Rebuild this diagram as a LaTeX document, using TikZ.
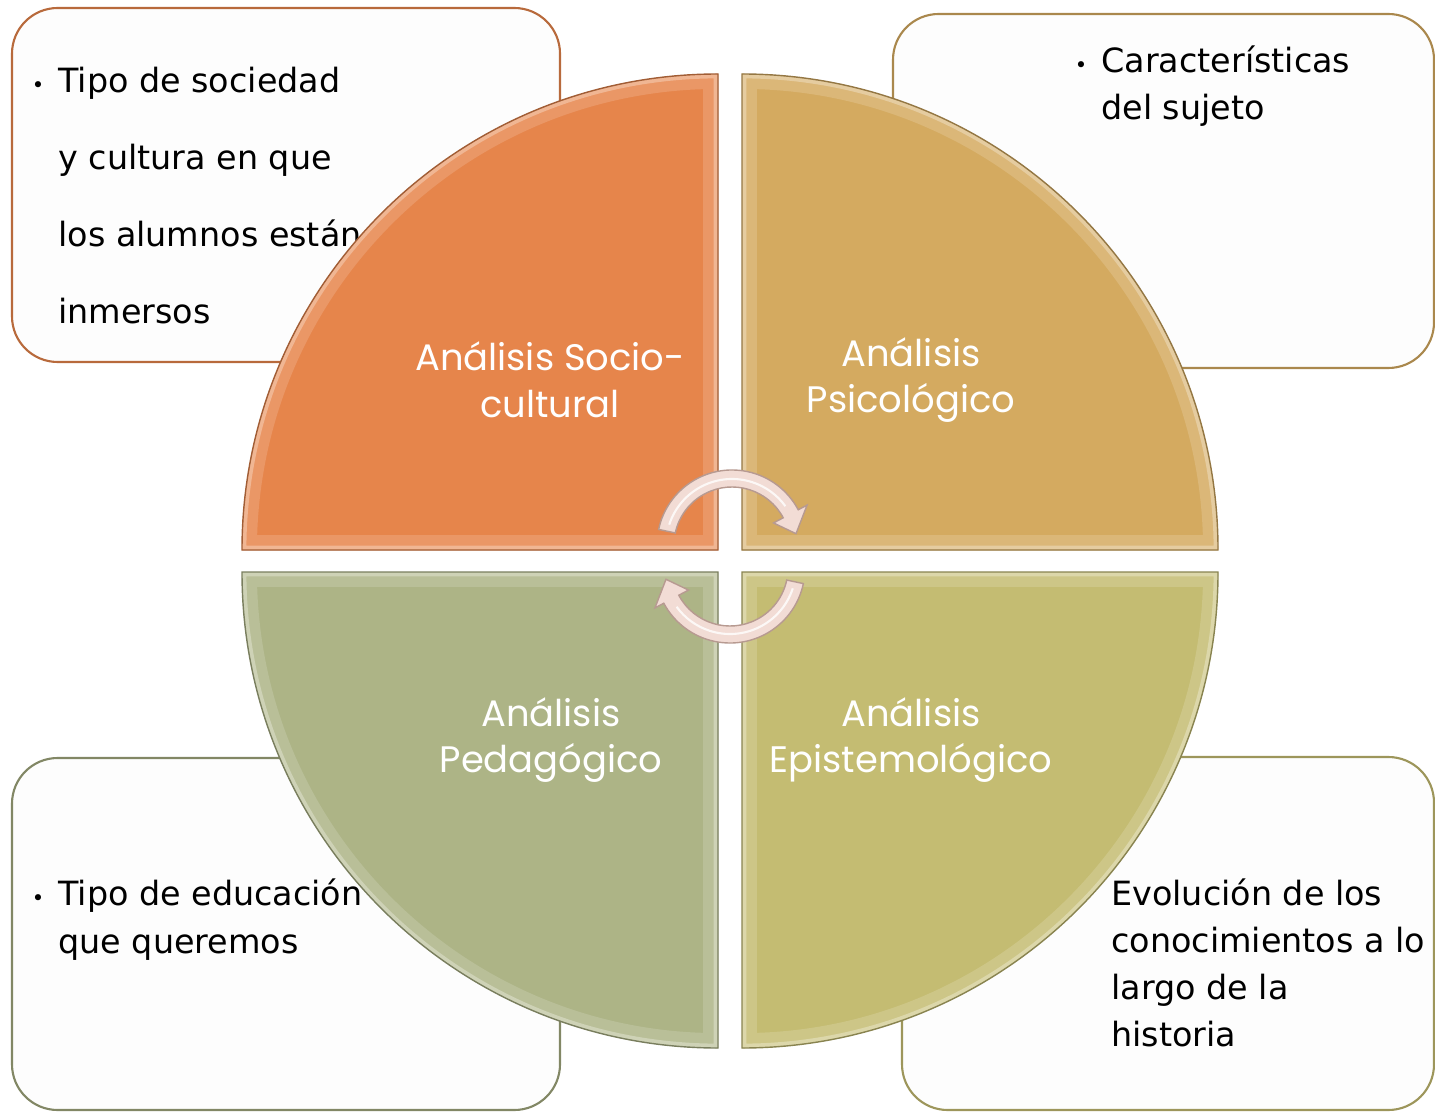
\documentclass[tikz,border=0pt]{standalone}
\usepackage{fontspec}
\setmainfont{DejaVu Sans}
\newfontfamily\quadfamily{Poppins}
\usetikzlibrary{positioning}

\definecolor{socio}{HTML}{E6854B}
\definecolor{psico}{HTML}{D4AA60}
\definecolor{peda}{HTML}{ADB486}
\definecolor{episte}{HTML}{C4BC72}
\definecolor{boxfill}{HTML}{FDFDFD}
\definecolor{cyclefill}{HTML}{F2DCD5}
\definecolor{cycleline}{HTML}{B79A91}

\newcommand{\Bullet}{\llap{{\fontsize{12}{12}\selectfont •}\hspace{8pt}}}
\newcommand{\SectorPath}[2]{(#1) -- ++(#2:476) arc[start angle=#2, end angle=#2-90, radius=476] -- cycle}
\newcommand{\Sector}[3]{%
    \fill[black, opacity=0.22, shift={(4,-5)}] \SectorPath{#2}{#3};
    \begin{scope}
        \clip \SectorPath{#2}{#3};
        \fill[#1] \SectorPath{#2}{#3};
        \draw[#1!85!white, line width=17pt] \SectorPath{#2}{#3};
        \draw[#1!60!white, line width=5pt] \SectorPath{#2}{#3};
    \end{scope}
    \draw[#1!70!black, line width=0.8pt] \SectorPath{#2}{#3};}
\newcommand{\ArrowPath}[2]{([shift={(#2+168:75)}]#1) arc[start angle=#2+168, end angle=#2+28, radius=75]
    -- ([shift={(#2+28:85)}]#1) -- ([shift={(#2+10:65)}]#1) -- ([shift={(#2+28:47)}]#1)
    -- ([shift={(#2+28:58)}]#1) arc[start angle=#2+28, end angle=#2+168, radius=58] -- cycle}
\newcommand{\CycleArrow}[2]{%
    \fill[black, opacity=0.2, shift={(3,-4)}] \ArrowPath{#1}{#2};
    \filldraw[fill=cyclefill, draw=cycleline, line width=0.8pt] \ArrowPath{#1}{#2};
    \draw[white, line width=1.2pt, opacity=0.8] ([shift={(#2+162:66)}]#1) arc[start angle=#2+162, end angle=#2+36, radius=66];}

\begin{document}
\begin{tikzpicture}[x=0.02cm, y=0.02cm,
    box/.style={line width=1.2pt, fill=boxfill, rounded corners=26pt},
    boxtext/.style={anchor=base west, align=left, inner sep=0pt, font=\fontsize{19}{27.2}\selectfont},
    quadtext/.style={align=center, text=white, inner sep=0pt, font=\quadfamily\fontsize{21}{26.6}\selectfont}]

    \useasboundingbox (0,0) rectangle (1435,1113);

    % boxes behind the circle
    \draw[box, draw=socio!80!black] (12,751) rectangle (560,1105);
    \draw[box, draw=psico!80!black] (893,745) rectangle (1434,1099);
    \draw[box, draw=peda!75!black] (12,3) rectangle (560,355);
    \draw[box, draw=episte!80!black] (902,3) rectangle (1434,356);

    % base is the last line
    \draw(58,789) node[boxtext, font=\fontsize{19}{44}\selectfont] (tsocio) {\Bullet Tipo de sociedad\\y cultura en que\\los alumnos están\\inmersos};
    \draw(1101,993) node[boxtext] (tpsico) {\Bullet Características\\del sujeto};
    \draw(58,160) node[boxtext] (tpeda) {\Bullet Tipo de educación\\que queremos};
    \draw(1111,67) node[boxtext, font=\fontsize{19}{26.6}\selectfont] (tepiste) {Evolución de los\\conocimientos a lo\\largo de la\\historia};

    % the four quarters
    \coordinate (csocio) at (718,563);
    \coordinate (cpsico) at (742,563);
    \coordinate (cpeda) at (718,541);
    \coordinate (cepiste) at (742,541);
    \Sector{socio}{csocio}{180}
    \Sector{psico}{cpsico}{90}
    \Sector{peda}{cpeda}{270}
    \Sector{episte}{cepiste}{0}

    \draw(550,733) node[quadtext] (qsocio) {Análisis Socio-\\cultural};
    \draw(911,733) node[quadtext] (qpsico) {Análisis\\Psicológico};
    \draw(551,373) node[quadtext] (qpeda) {Análisis\\Pedagógico};
    \draw(911,373) node[quadtext] (qepiste) {Análisis\\Epistemológico};

    % cycle arrows
    \coordinate (cyctop) at (732,568);
    \coordinate (cycbot) at (730,545);
    \CycleArrow{cyctop}{0}
    \CycleArrow{cycbot}{180}

\end{tikzpicture}
\end{document}
